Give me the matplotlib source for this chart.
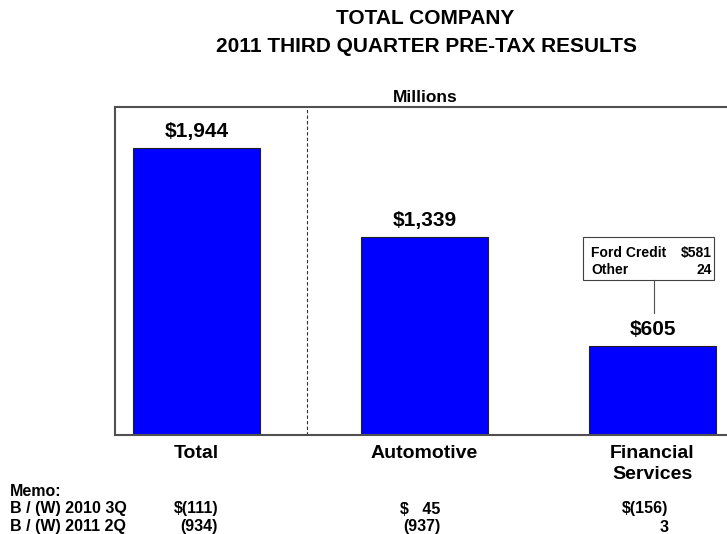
import matplotlib.pyplot as plt
from matplotlib.patches import Rectangle
from matplotlib.transforms import blended_transform_factory

plt.rcParams['font.family'] = ['Liberation Sans', 'DejaVu Sans']
plt.rcParams['font.weight'] = 'bold'

# Datos (millones USD)
categories = ['Total', 'Automotive', 'Financial\nServices']
values = [1944, 1339, 605]
value_labels = ['$1,944', '$1,339', '$605']

breakdown_names = ['Ford Credit', 'Other']
breakdown_values = ['$581', '24']

memo_rows = ['B / (W) 2010 3Q', 'B / (W) 2011 2Q']
memo_2010_3q = ['$(111)', '$   45', '$(156)']
memo_2011_2q = ['(934)', '(937)', '3']

W, H = 727, 534
fig = plt.figure(figsize=(W / 100, H / 100), dpi=100)

# ejes: el borde derecho queda fuera del lienzo, como en el original
x0, x1 = -0.357, 2.5
left_px, bottom_px, top_px = 115, 435, 107
right_px = 196.5 + x1 * 228
ax = fig.add_axes([left_px / W, 1 - bottom_px / H,
                   (right_px - left_px) / W, (bottom_px - top_px) / H])
ax.set_xlim(x0, x1)
ax.set_ylim(0, 2222)

xs = list(range(len(categories)))
ax.bar(xs, values, width=0.557, color='#0000FF', edgecolor='#202020', linewidth=0.8)

for x, v, lab in zip(xs, values, value_labels):
    ax.annotate(lab, (x, v), xytext=(0, 5), textcoords='offset points',
                ha='center', va='bottom', fontsize=15, fontweight='bold')

ax.axvline(0.485, color='#303030', linestyle=(0, (3, 2)), linewidth=0.8)

ax.set_xticks(xs)
ax.set_xticklabels(categories, fontsize=14, fontweight='bold', linespacing=1.3)
ax.tick_params(axis='x', length=0, pad=7)
ax.set_yticks([])
for s in ax.spines.values():
    s.set_color('#505050')
    s.set_linewidth(1.5)

# recuadro de desglose de Financial Services
ax.add_patch(Rectangle((1.695, 1050), 0.575, 291, facecolor='white',
                       edgecolor='#404040', linewidth=0.8, clip_on=False))
for i, (n, v) in enumerate(zip(breakdown_names, breakdown_values)):
    y = 1235 - i * 115
    ax.text(1.73, y, n, fontsize=10, fontweight='bold', va='center', ha='left')
    ax.text(2.261, y, v, fontsize=10, fontweight='bold', va='center', ha='right')
ax.plot([2.007, 2.007], [1050, 826], color='#505050', linewidth=0.8)

# títulos
fig.text(425 / W, 1 - 19 / H, 'TOTAL COMPANY', ha='center', va='center',
         fontsize=15, fontweight='bold')
fig.text(426 / W, 1 - 46 / H, '2011 THIRD QUARTER PRE-TAX RESULTS', ha='center',
         va='center', fontsize=15, fontweight='bold')
fig.text(425 / W, 1 - 97 / H, 'Millions', ha='center', va='center',
         fontsize=12.5, fontweight='bold')

# memo
fs_memo = 11.5
fig.text(10 / W, 1 - 491 / H, 'Memo:', ha='left', va='center', fontsize=fs_memo, fontweight='bold')
trans = blended_transform_factory(ax.transData, fig.transFigure)
right_edges = [0.095, 1.07, 2.07]
for row, (name, vals) in enumerate(zip(memo_rows, [memo_2010_3q, memo_2011_2q])):
    y = 1 - (509 + row * 18) / H
    fig.text(10 / W, y, name, ha='left', va='center', fontsize=fs_memo, fontweight='bold')
    for xe, v in zip(right_edges, vals):
        ax.text(xe, y, v, transform=trans, ha='right', va='center',
                fontsize=fs_memo, fontweight='bold', clip_on=False)

fig.savefig('out.png', dpi=100)
